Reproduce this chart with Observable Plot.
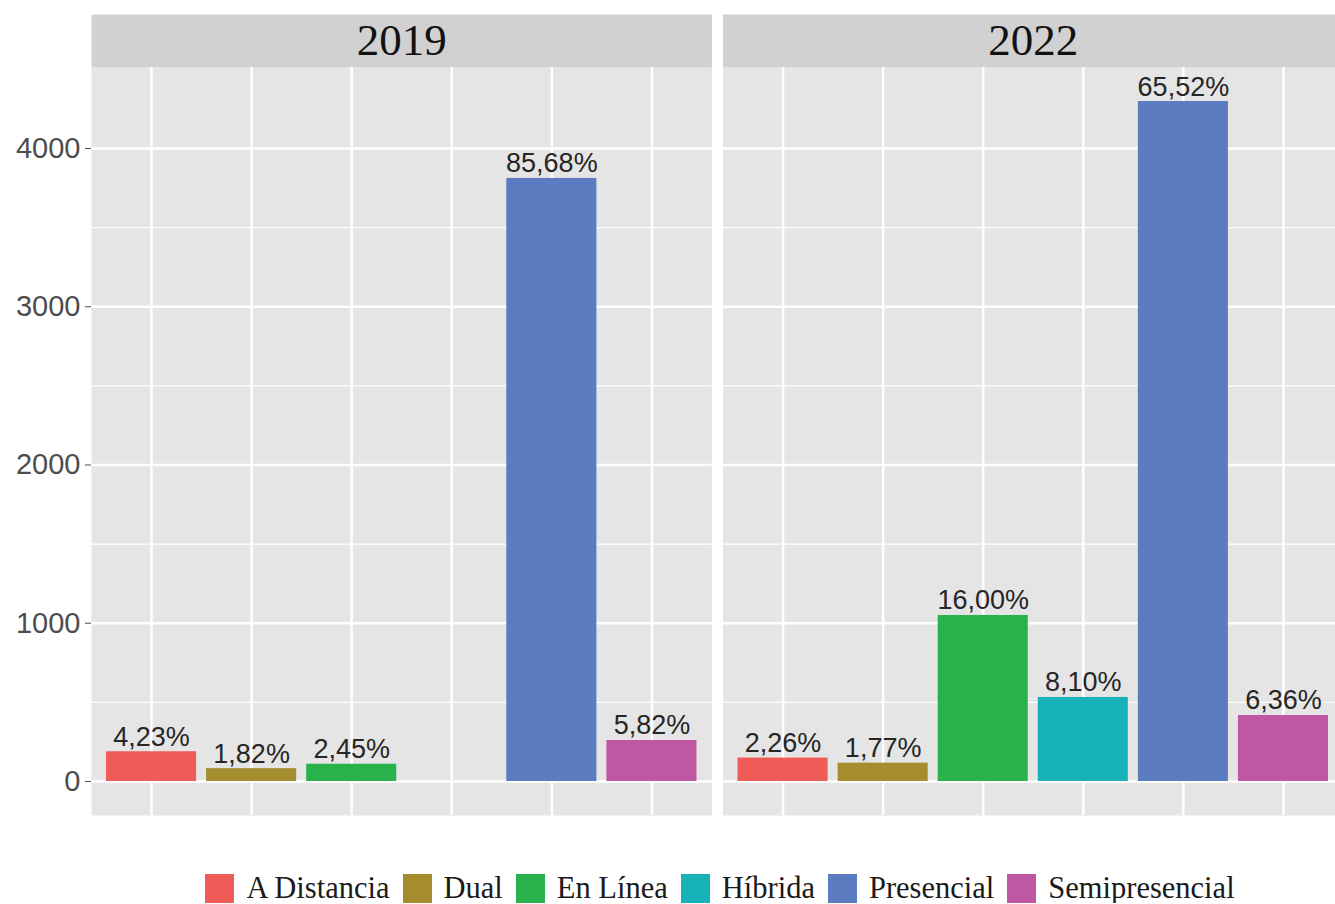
<!DOCTYPE html>
<html>
<head>
<meta charset="utf-8">
<script src="https://cdn.jsdelivr.net/npm/d3@7"></script>
<script src="https://cdn.jsdelivr.net/npm/@observablehq/plot@0.6"></script>
<style>
  html, body { margin: 0; padding: 0; background: #ffffff; overflow: hidden; }
  #chart svg { max-width: none !important; }
  #legend { display: flex; justify-content: center; align-items: center; width: 1335px; padding-left: 118px; box-sizing: border-box; margin-top: 44px; font-family: "Liberation Serif", serif; font-size: 30.5px; color: #1a1a1a; line-height: 29px; height: 29px; }
  .item { display: flex; align-items: center; margin-right: 13px; }
  .sw { width: 29px; height: 29px; margin-right: 12px; }
</style>
</head>
<body>
<div id="chart"></div>
<div id="legend"></div>
<script>
const years = ["2019", "2022"];
const categories = ["A Distancia", "Dual", "En Línea", "Híbrida", "Presencial", "Semipresencial"];
const values2019 = [188, 81, 109, null, 3811, 259];
const values2022 = [148, 116, 1049, 531, 4297, 417];
const labels2019 = ["4,23%", "1,82%", "2,45%", null, "85,68%", "5,82%"];
const labels2022 = ["2,26%", "1,77%", "16,00%", "8,10%", "65,52%", "6,36%"];
const colors = ["#EF5B57", "#A58C2D", "#29B24B", "#17B2B7", "#5B7CC1", "#BF58A3"];
const majorTicks = [0, 1000, 2000, 3000, 4000];
const minorTicks = [500, 1500, 2500, 3500];

const data = [];
categories.forEach((c, i) => {
  if (values2019[i] != null) data.push({year: "2019", category: c, value: values2019[i], label: labels2019[i]});
});
categories.forEach((c, i) => {
  if (values2022[i] != null) data.push({year: "2022", category: c, value: values2022[i], label: labels2022[i]});
});

const chart = Plot.plot({
  width: 1343,
  height: 830,
  marginTop: 67,
  marginLeft: 91,
  marginRight: 0,
  marginBottom: 15,
  style: {background: "white", maxWidth: "none"},
  fx: {domain: years, paddingInner: 0.0175, paddingOuter: 0, round: false, label: null},
  x: {domain: categories, paddingInner: 0.1, paddingOuter: 0.15, round: false, axis: null},
  y: {domain: [-215, 4512], axis: null},
  color: {domain: categories, range: colors},
  marks: [
    Plot.frame({fill: "#e5e5e5"}),
    Plot.frame({fill: "#d1d1d1", insetTop: -53, insetBottom: 748}),
    Plot.gridY(minorTicks, {stroke: "white", strokeOpacity: 1, strokeWidth: 1.2}),
    Plot.gridY(majorTicks, {stroke: "white", strokeOpacity: 1, strokeWidth: 2.4}),
    Plot.gridX({stroke: "white", strokeOpacity: 1, strokeWidth: 2.4}),
    Plot.barY(data, {fx: "year", x: "category", y: "value", fill: "category"}),
    Plot.text(data, {fx: "year", x: "category", y: "value", text: "label", dy: -6, lineAnchor: "bottom", fontSize: 27, fill: "#262626", fontFamily: "Liberation Sans, Arial, sans-serif"}),
    Plot.axisY(majorTicks, {tickSize: 6, tickPadding: 5, fontSize: 29, color: "#4d4d4d", fontFamily: "Liberation Sans, Arial, sans-serif", tickFormat: d => String(d), label: null}),
    Plot.axisFx({anchor: "top", tickSize: 0, tickPadding: 27, lineAnchor: "middle", fontSize: 45, fontFamily: "Liberation Serif, serif", fill: "#111", label: null})
  ]
});
document.getElementById("chart").appendChild(chart);

const legend = document.getElementById("legend");
categories.forEach((c, i) => {
  const item = document.createElement("div");
  item.className = "item";
  const sw = document.createElement("div");
  sw.className = "sw";
  sw.style.background = colors[i];
  const t = document.createElement("span");
  t.textContent = c;
  item.appendChild(sw);
  item.appendChild(t);
  legend.appendChild(item);
});
</script>
</body>
</html>
